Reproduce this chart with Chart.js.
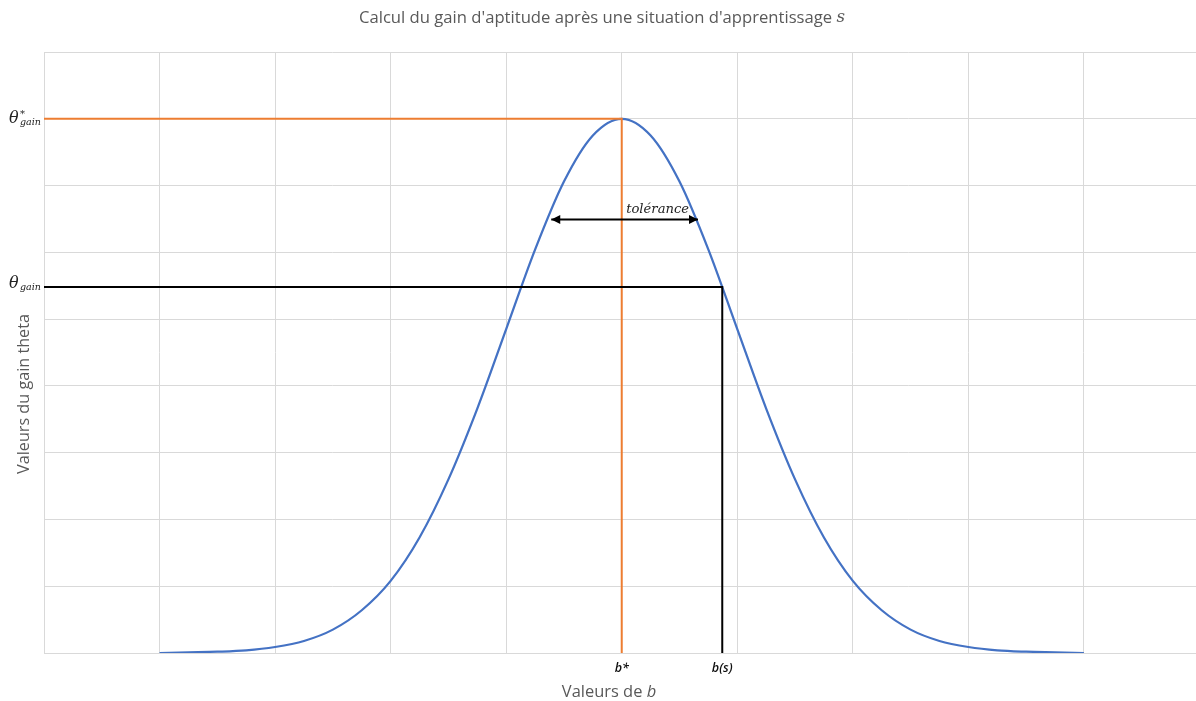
<!DOCTYPE html>
<html><head><meta charset="utf-8">
<script src="https://cdn.jsdelivr.net/npm/chart.js@4"></script>
<style>html,body{margin:0;padding:0;background:#fff}</style>
</head><body>
<canvas id="c" width="1196" height="701"></canvas>
<script>
// ---- data ----
const bValues = [1,1.25,1.5,1.75,2,2.25,2.5,2.75,3,3.25,3.5,3.75,4,4.25,4.5,4.75,5,5.25,5.5,5.75,6,6.25,6.5,6.75,7,7.25,7.5,7.75,8,8.25,8.5,8.75,9];
const gainValues = [0.00,0.01,0.02,0.04,0.09,0.18,0.35,0.64,1.08,1.73,2.60,3.66,4.85,6.04,7.06,7.75,8.00,7.75,7.06,6.04,4.85,3.66,2.60,1.73,1.08,0.64,0.35,0.18,0.09,0.04,0.02,0.01,0.00];
const optimumX = [0, 5.0, 5.0];      // b*
const optimumY = [8.0, 8.0, 0];      // theta*_gain
const actualX = [0, 5.87, 5.87];     // b(s)
const actualY = [5.48, 5.48, 0];     // theta_gain
const toleranceX = [4.39, 5.66];
const toleranceY = [6.49, 6.49];
const xMarkValues = [5.0, 5.87];
const xMarkLabels = ['b*', 'b(s)'];
const yMarkValues = [8.0, 5.48];
const yMarkSup = ['*', ''];
const titleMain = "Calcul du gain d'aptitude après une situation d'apprentissage ";
const titleItalic = 's';
const xTitleMain = 'Valeurs de ';
const xTitleItalic = 'b';
const yTitle = 'Valeurs du gain theta';
const toleranceLabel = 'tolérance';

const pts = (xs, ys) => xs.map((v, i) => ({x: v, y: ys[i]}));

function fit(ctx, text, style, family, target) {
  ctx.font = style + ' 100px ' + family;
  return 100 * target / ctx.measureText(text).width;
}

const SANS = '"Open Sans", "Noto Sans", sans-serif';
const SERIF = '"DejaVu Serif", serif';

const annot = {
  id: 'annot',
  afterDatasetsDraw(chart) {
    const {ctx, scales: {x, y}} = chart;
    ctx.save();
    // arrow heads
    const ya = y.getPixelForValue(toleranceY[0]);
    const xl = x.getPixelForValue(toleranceX[0]);
    const xr = x.getPixelForValue(toleranceX[1]);
    ctx.fillStyle = '#000';
    ctx.beginPath(); ctx.moveTo(xl, ya); ctx.lineTo(xl + 9, ya - 4.5); ctx.lineTo(xl + 9, ya + 4.5); ctx.closePath(); ctx.fill();
    ctx.beginPath(); ctx.moveTo(xr, ya); ctx.lineTo(xr - 9, ya - 4.5); ctx.lineTo(xr - 9, ya + 4.5); ctx.closePath(); ctx.fill();
    // tolerance label
    ctx.fillStyle = '#222';
    ctx.textAlign = 'center'; ctx.textBaseline = 'alphabetic';
    let s = fit(ctx, toleranceLabel, 'italic', SERIF, 63);
    ctx.font = 'italic ' + s + 'px ' + SERIF;
    ctx.fillText(toleranceLabel, (xl + xr) / 2 + 33, ya - 7);

    // y marks: theta labels
    yMarkValues.forEach((v, i) => {
      const py = y.getPixelForValue(v);
      const dy = i === 0 ? 0 : -3;
      ctx.textAlign = 'left';
      ctx.fillStyle = '#222';
      ctx.font = 'italic 16px ' + SERIF;
      ctx.fillText('θ', 9, py + 4 + dy);
      if (yMarkSup[i]) {
        ctx.font = 'italic 10px ' + SERIF;
        ctx.fillText(yMarkSup[i], 20, py - 2 + dy);
      }
      const gs = fit(ctx, 'gain', 'italic', SERIF, 21);
      ctx.font = 'italic ' + gs + 'px ' + SERIF;
      ctx.fillText('gain', 20, py + 6 + dy);
    });

    // x marks
    ctx.fillStyle = '#111';
    ctx.textAlign = 'center'; ctx.textBaseline = 'middle';
    ctx.font = 'italic 600 12.5px ' + SANS;
    xMarkValues.forEach((v, i) => {
      ctx.fillText(xMarkLabels[i], x.getPixelForValue(v), 668);
    });

    // chart title
    ctx.fillStyle = '#595959';
    ctx.textAlign = 'left'; ctx.textBaseline = 'middle';
    s = fit(ctx, titleMain, 'normal', SANS, 478);
    ctx.font = s + 'px ' + SANS;
    const w1 = ctx.measureText(titleMain).width;
    ctx.font = 'italic ' + s + 'px ' + SERIF;
    const w2 = ctx.measureText(titleItalic).width;
    let x0 = 602 - (w1 + w2) / 2;
    ctx.font = s + 'px ' + SANS;
    ctx.fillText(titleMain, x0, 18);
    ctx.font = 'italic ' + s + 'px ' + SERIF;
    ctx.fillText(titleItalic, x0 + w1, 18);

    // x axis title
    s = fit(ctx, xTitleMain + 'b', 'normal', SANS, 95);
    ctx.font = s + 'px ' + SANS;
    const wx1 = ctx.measureText(xTitleMain).width;
    ctx.font = 'italic ' + s + 'px ' + SANS;
    const wx2 = ctx.measureText(xTitleItalic).width;
    x0 = 609 - (wx1 + wx2) / 2;
    ctx.font = s + 'px ' + SANS;
    ctx.fillText(xTitleMain, x0, 692);
    ctx.font = 'italic ' + s + 'px ' + SANS;
    ctx.fillText(xTitleItalic, x0 + wx1, 692);

    // y axis title
    s = fit(ctx, yTitle, 'normal', SANS, 160);
    ctx.font = s + 'px ' + SANS;
    ctx.translate(24, 394);
    ctx.rotate(-Math.PI / 2);
    ctx.textAlign = 'center';
    ctx.fillText(yTitle, 0, 0);
    ctx.restore();
  }
};

new Chart(document.getElementById('c'), {
  type: 'scatter',
  data: {
    datasets: [
      {data: pts(actualX, actualY), showLine: true, borderColor: '#000000', borderWidth: 2, pointRadius: 0, tension: 0, order: 1},
      {data: pts(toleranceX, toleranceY), showLine: true, borderColor: '#000000', borderWidth: 2, pointRadius: 0, tension: 0, order: 0},
      {data: pts(optimumX, optimumY), showLine: true, borderColor: '#ED7D31', borderWidth: 2, pointRadius: 0, tension: 0, order: 2},
      {data: pts(bValues, gainValues), showLine: true, borderColor: '#4472C4', borderWidth: 2.25, pointRadius: 0, cubicInterpolationMode: 'monotone', order: 3}
    ]
  },
  options: {
    responsive: false,
    animation: false,
    events: [],
    layout: {padding: {top: 52, right: 0, left: 0, bottom: 0}},
    plugins: {legend: {display: false}, tooltip: {enabled: false}, title: {display: false}},
    scales: {
      x: {
        type: 'linear', min: 0, max: 9.97,
        ticks: {display: false, stepSize: 1, includeBounds: false},
        grid: {color: '#d9d9d9', drawTicks: false, lineWidth: 1},
        border: {color: '#d9d9d9'},
        afterFit(scale) { scale.height = 48; }
      },
      y: {
        type: 'linear', min: 0, max: 9,
        ticks: {display: false, stepSize: 1},
        grid: {color: '#d9d9d9', drawTicks: false, lineWidth: 1},
        border: {color: '#d9d9d9'},
        afterFit(scale) { scale.width = 44; }
      }
    }
  },
  plugins: [annot]
});
</script>
</body></html>
